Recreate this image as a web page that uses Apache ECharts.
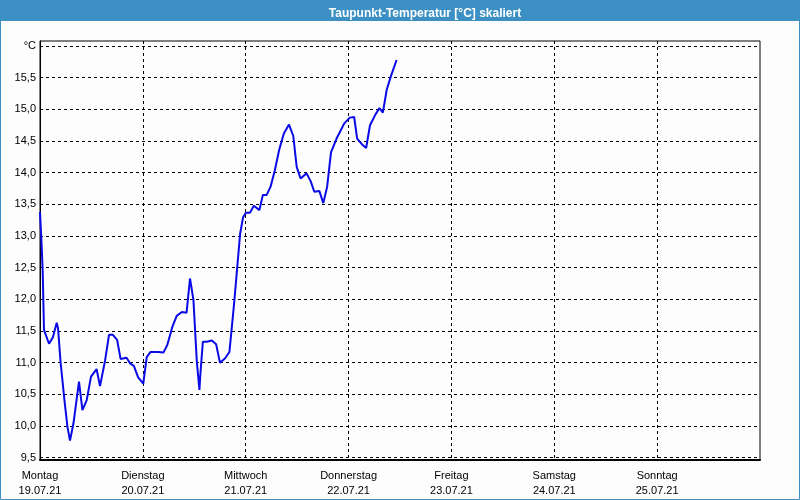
<!DOCTYPE html>
<html><head><meta charset="utf-8">
<script src="https://cdn.jsdelivr.net/npm/echarts@6/dist/echarts.min.js"></script>
<style>html,body{margin:0;padding:0;background:#fcfdfc}#c{width:800px;height:500px}</style>
</head><body><div id="c"></div>
<script>
// hours since Monday 19.07.21 00:00
const hours = [0,0.35,0.63,0.77,0.93,2.1,3.0,3.9,4.2,4.8,5.7,6.4,7.0,7.8,9.1,9.9,10.9,11.9,13.2,14.0,15.2,16.1,17.0,18.0,18.8,20.2,21.0,21.9,22.9,24.1,24.9,25.8,27.6,28.8,29.7,30.9,31.9,33.1,34.2,35.0,35.2,35.8,36.6,37.2,37.4,38.0,38.9,40.1,41.1,42.0,43.2,44.2,44.7,45.3,45.9,46.7,47.4,48.1,49.0,49.9,51.2,52.0,52.9,53.8,54.8,55.8,56.9,58.1,59.1,59.9,60.8,62.2,63.2,64.0,65.2,66.1,67.0,67.9,69.2,71.0,72.3,73.3,74.0,75.1,76.1,77.0,78.2,79.2,80.0,80.9,81.9,83.2];
const dewpoint = [13.38,12.9,12.45,12.0,11.52,11.3,11.4,11.63,11.55,11.01,10.41,9.99,9.77,10.04,10.70,10.25,10.41,10.78,10.90,10.63,11.04,11.44,11.44,11.36,11.06,11.08,10.99,10.95,10.77,10.67,11.09,11.17,11.17,11.16,11.28,11.57,11.74,11.80,11.79,12.33,12.25,11.99,11.01,10.57,10.8,11.33,11.33,11.35,11.29,11.0,11.07,11.17,11.52,11.94,12.41,13.04,13.30,13.37,13.37,13.48,13.41,13.65,13.65,13.78,14.04,14.36,14.62,14.76,14.58,14.09,13.91,13.99,13.86,13.70,13.71,13.52,13.78,14.32,14.54,14.78,14.87,14.88,14.54,14.45,14.39,14.75,14.91,15.02,14.95,15.31,15.53,15.78];
const dayNames = ['Montag','Dienstag','Mittwoch','Donnerstag','Freitag','Samstag','Sonntag'];
const dayDates = ['19.07.21','20.07.21','21.07.21','22.07.21','23.07.21','24.07.21','25.07.21'];
const yTicks = [9.5,10.0,10.5,11.0,11.5,12.0,12.5,13.0,13.5,14.0,14.5,15.0,15.5,16.0];
const titleText = 'Taupunkt-Temperatur [°C] skaliert';

const chart = echarts.init(document.getElementById('c'), null, {renderer:'canvas'});
const font = 'Liberation Sans';
chart.setOption({
  backgroundColor:'#fcfdfc',
  animation:false,
  title:{text:titleText,left:420,top:3,textAlign:'center',textStyle:{color:'#fff',fontWeight:'bold',fontSize:12,fontFamily:font}},
  graphic:[
    {type:'rect',z:-1,shape:{x:0,y:0,width:800,height:21},style:{fill:'#3d90c3'}},
    {type:'rect',z:-1,shape:{x:0.5,y:0.5,width:799,height:499},style:{fill:null,stroke:'#3d90c3',lineWidth:1}}
  ],
  grid:{left:40,right:40,top:41,bottom:40,show:true,borderColor:'#000',borderWidth:1,backgroundColor:'transparent'},
  xAxis:{type:'value',min:0,max:168,interval:24,
    axisLine:{show:true,onZero:false,lineStyle:{color:'#000',width:2}},
    axisTick:{show:false},
    splitLine:{show:true,showMinLine:false,showMaxLine:false,lineStyle:{color:'#000',type:[3,3],width:1}},
    axisLabel:{margin:8,color:'#000',fontSize:11,fontFamily:font,lineHeight:15,showMaxLabel:false,
      formatter:v=>{const i=Math.round(v/24);return i<7?dayNames[i]+'\n'+dayDates[i]:'';}}
  },
  yAxis:{type:'value',min:9.464,max:16.08,
    axisLine:{show:true,lineStyle:{color:'#000',width:1}},
    axisTick:{show:false,customValues:yTicks},
    splitLine:{show:true,lineStyle:{color:'#000',type:[3,3],width:1}},
    axisLabel:{customValues:yTicks,margin:4,color:'#000',fontSize:11,fontFamily:font,
      formatter:v=>Math.abs(v-16)<1e-6?'°C':v.toFixed(1).replace('.',',')}
  },
  series:[{type:'line',data:hours.map((h,i)=>[h,dewpoint[i]]),showSymbol:false,
    lineStyle:{color:'#0a0ae6',width:2},itemStyle:{color:'#0a0ae6'}}]
});
</script></body></html>
